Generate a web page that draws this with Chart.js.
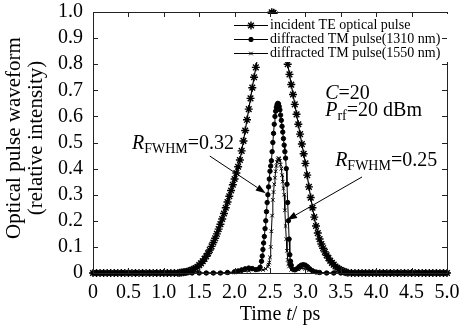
<!DOCTYPE html>
<html>
<head>
<meta charset="utf-8">
<script src="https://cdn.jsdelivr.net/npm/chart.js@4.4.1/dist/chart.umd.min.js"></script>
<style>
  html, body { margin: 0; padding: 0; background: #fff; }
</style>
</head>
<body>
<canvas id="chart" width="459" height="330"></canvas>
<script>
// series names and tick values
const seriesNames = ['incident TE optical pulse', 'diffracted TM pulse(1310 nm)', 'diffracted TM pulse(1550 nm)'];
const xTickValues = [0, 0.5, 1.0, 1.5, 2.0, 2.5, 3.0, 3.5, 4.0, 4.5, 5.0];
const yTickValues = [0, 0.1, 0.2, 0.3, 0.4, 0.5, 0.6, 0.7, 0.8, 0.9, 1.0];

// incident TE pulse (time in ps, relative intensity)
const teTime = [
  0, 0.05, 0.1, 0.15, 0.2, 0.25, 0.3, 0.35, 0.4, 0.45, 0.5, 0.55, 0.6, 0.65, 0.7, 0.75, 0.8, 0.85, 0.9, 0.95, 1.0, 1.05, 1.1, 1.15,
  1.2, 1.225, 1.25, 1.275, 1.3, 1.325, 1.35, 1.375, 1.4, 1.425, 1.45, 1.475, 1.5, 1.525, 1.55, 1.575, 1.6, 1.625, 1.65, 1.675,
  1.7, 1.725, 1.75, 1.775, 1.8, 1.825, 1.85, 1.875, 1.9, 1.925, 1.95, 1.975, 2.0, 2.025, 2.05, 2.075, 2.1, 2.125, 2.15, 2.175,
  2.2, 2.225, 2.25, 2.275, 2.3, 2.325, 2.35, 2.375, 2.4, 2.425, 2.45, 2.475, 2.5, 2.525, 2.55, 2.575, 2.6, 2.625, 2.65, 2.675,
  2.7, 2.725, 2.75, 2.775, 2.8, 2.825, 2.85, 2.875, 2.9, 2.925, 2.95, 2.975, 3.0, 3.025, 3.05, 3.075, 3.1, 3.125, 3.15, 3.175,
  3.2, 3.225, 3.25, 3.275, 3.3, 3.325, 3.35, 3.375, 3.4, 3.425, 3.45, 3.475, 3.5, 3.525, 3.55, 3.575, 3.6,
  3.65, 3.7, 3.75, 3.8, 3.85, 3.9, 3.95, 4.0, 4.05, 4.1, 4.15, 4.2, 4.25, 4.3, 4.35, 4.4, 4.45, 4.5, 4.55, 4.6, 4.65, 4.7, 4.75,
  4.8, 4.85, 4.9, 4.95, 5.0
];
const teValue = [
  0, 0, 0, 0, 0, 0, 0, 0, 0, 0, 0, 0, 0, 0, 0, 0, 0, 0, 0, 0, 0, 0, 0, 0,
  0, 0.001, 0.002, 0.003, 0.004, 0.005, 0.007, 0.009, 0.012, 0.015, 0.019, 0.024, 0.030, 0.037, 0.045, 0.054, 0.064, 0.075, 0.088, 0.102,
  0.117, 0.133, 0.150, 0.168, 0.187, 0.207, 0.228, 0.250, 0.272, 0.294, 0.316, 0.338, 0.360, 0.383, 0.407, 0.433, 0.468, 0.506, 0.546, 0.587,
  0.628, 0.669, 0.710, 0.750, 0.788, 0.824, 0.857, 0.888, 0.915, 0.939, 0.959, 0.976, 0.989, 0.999, 0.997, 0.990, 0.978, 0.961, 0.939, 0.911,
  0.877, 0.840, 0.800, 0.761, 0.722, 0.684, 0.646, 0.608, 0.570, 0.532, 0.494, 0.457, 0.420, 0.375, 0.330, 0.289, 0.250, 0.214, 0.180, 0.153,
  0.130, 0.111, 0.095, 0.081, 0.068, 0.057, 0.047, 0.039, 0.032, 0.025, 0.020, 0.015, 0.011, 0.008, 0.005, 0.003, 0.001,
  0, 0, 0, 0, 0, 0, 0, 0, 0, 0, 0, 0, 0, 0, 0, 0, 0, 0, 0, 0, 0, 0, 0,
  0, 0, 0, 0, 0
];

// diffracted TM pulse, 1310 nm
const tm1310Time = [
  0, 0.1, 0.2, 0.3, 0.4, 0.5, 0.6, 0.7, 0.8, 0.9, 1.0, 1.1, 1.2, 1.3, 1.4, 1.5, 1.6, 1.7, 1.8,
  1.9, 2.0, 2.05, 2.1, 2.15, 2.2, 2.25, 2.3, 2.34, 2.36,
  2.38, 2.39, 2.40, 2.41, 2.42, 2.43, 2.44, 2.45, 2.46, 2.47, 2.48, 2.49, 2.50, 2.51, 2.52, 2.53, 2.54, 2.55, 2.56, 2.57,
  2.58, 2.59, 2.60, 2.61, 2.62, 2.63, 2.64, 2.65, 2.66, 2.67, 2.68, 2.69, 2.70, 2.71, 2.72, 2.73, 2.74, 2.75, 2.76, 2.77,
  2.78, 2.79, 2.80,
  2.82, 2.85, 2.88, 2.91, 2.94, 2.97, 3.0, 3.03, 3.06, 3.1, 3.15, 3.2, 3.3,
  3.4, 3.5, 3.6, 3.7, 3.8, 3.9, 4.0, 4.1, 4.2, 4.3, 4.4, 4.5, 4.6, 4.7, 4.8, 4.9, 5.0
];
const tm1310Value = [
  0, 0, 0, 0, 0, 0, 0, 0, 0, 0, 0, 0, 0, 0, 0, 0, 0, 0, 0,
  0.002, 0.005, 0.008, 0.012, 0.016, 0.019, 0.017, 0.013, 0.015, 0.022,
  0.045, 0.065, 0.09, 0.115, 0.14, 0.17, 0.2, 0.235, 0.27, 0.3, 0.33, 0.36, 0.39, 0.41, 0.43, 0.465, 0.5, 0.535, 0.57, 0.6,
  0.62, 0.635, 0.645, 0.65, 0.648, 0.638, 0.625, 0.605, 0.585, 0.562, 0.54, 0.515, 0.49, 0.465, 0.44, 0.4, 0.34, 0.27, 0.2, 0.13,
  0.07, 0.045, 0.03,
  0.015, 0.012, 0.016, 0.024, 0.03, 0.032, 0.03, 0.024, 0.016, 0.009, 0.004, 0.002, 0,
  0, 0, 0, 0, 0, 0, 0, 0, 0, 0, 0, 0, 0, 0, 0, 0, 0
];

// diffracted TM pulse, 1550 nm
const tm1550Time = [
  0, 0.1, 0.2, 0.3, 0.4, 0.5, 0.6, 0.7, 0.8, 0.9, 1.0, 1.1, 1.2, 1.3, 1.4, 1.5, 1.6, 1.7, 1.8, 1.9,
  2.0, 2.1, 2.2, 2.3, 2.4, 2.44,
  2.47, 2.48, 2.49, 2.50, 2.51, 2.52, 2.53, 2.54, 2.55, 2.56, 2.57, 2.58, 2.59, 2.60, 2.61, 2.62,
  2.63, 2.64, 2.65, 2.66, 2.67, 2.68, 2.69, 2.70, 2.71, 2.72, 2.73, 2.74, 2.75, 2.76, 2.77,
  2.8, 2.85, 2.9, 2.95, 3.0, 3.05, 3.1, 3.2, 3.3,
  3.4, 3.5, 3.6, 3.7, 3.8, 3.9, 4.0, 4.1, 4.2, 4.3, 4.4, 4.5, 4.6, 4.7, 4.8, 4.9, 5.0
];
const tm1550Value = [
  0, 0, 0, 0, 0, 0, 0, 0, 0, 0, 0, 0, 0, 0, 0, 0, 0, 0, 0, 0,
  0.002, 0.004, 0.008, 0.01, 0.012, 0.016,
  0.025, 0.032, 0.04, 0.06, 0.1, 0.16, 0.22, 0.28, 0.31, 0.34, 0.365, 0.39, 0.41, 0.425, 0.435, 0.44,
  0.438, 0.43, 0.415, 0.4, 0.375, 0.35, 0.325, 0.3, 0.24, 0.18, 0.13, 0.085, 0.05, 0.035, 0.025,
  0.012, 0.01, 0.014, 0.018, 0.016, 0.01, 0.005, 0.001, 0,
  0, 0, 0, 0, 0, 0, 0, 0, 0, 0, 0, 0, 0, 0, 0, 0, 0
];

const serif = '"Liberation Serif", "DejaVu Serif", serif';

function toPoints(ts, vs) {
  return ts.map((t, i) => ({ x: t, y: vs[i] }));
}

// text with italic / subscript pieces
function drawRich(ctx, parts, x, y, size) {
  let cx = x;
  parts.forEach(p => {
    const s = p.sub ? Math.round(size * 0.68) : size;
    ctx.font = (p.it ? 'italic ' : '') + s + 'px ' + serif;
    ctx.fillText(p.t, cx, y + (p.sub ? size * 0.2 : 0));
    cx += ctx.measureText(p.t).width;
  });
  return cx - x;
}

function arrow(ctx, x0, y0, x1, y1) {
  const ang = Math.atan2(y1 - y0, x1 - x0);
  const len = 10, half = 3.5;
  const bx = x1 - len * Math.cos(ang), by = y1 - len * Math.sin(ang);
  ctx.beginPath();
  ctx.moveTo(x0, y0);
  ctx.lineTo(bx, by);
  ctx.stroke();
  ctx.beginPath();
  ctx.moveTo(x1, y1);
  ctx.lineTo(bx + half * Math.sin(ang), by - half * Math.cos(ang));
  ctx.lineTo(bx - half * Math.sin(ang), by + half * Math.cos(ang));
  ctx.closePath();
  ctx.fill();
}

const decor = {
  id: 'decor',
  afterDatasetsDraw(chart) {
    const { ctx, chartArea: a, scales } = chart;
    const sx = scales.x, sy = scales.y;
    ctx.save();
    ctx.strokeStyle = '#222';
    ctx.fillStyle = '#000';
    ctx.lineWidth = 1;

    // frame
    ctx.strokeRect(Math.round(a.left) + 0.5, Math.round(a.top) + 0.5, Math.round(a.right - a.left), Math.round(a.bottom - a.top));

    // legend box (white, covers the curves)
    const lgLeft = a.right - 215;
    ctx.fillStyle = '#fff';
    ctx.fillRect(lgLeft, a.top + 2, a.right + 2 - lgLeft, 48);
    ctx.fillStyle = '#000';
    ctx.font = '14px ' + serif;
    ctx.textBaseline = 'middle';
    ctx.textAlign = 'left';
    chart.data.datasets.forEach((ds, i) => {
      const ly = a.top + 13.5 + i * 14;
      const lx0 = lgLeft + 2, lx1 = lgLeft + 36;
      ctx.strokeStyle = '#000';
      ctx.lineWidth = 1;
      ctx.beginPath();
      ctx.moveTo(lx0, ly);
      ctx.lineTo(lx1, ly);
      ctx.stroke();
      ctx.lineWidth = ds.pointBorderWidth;
      Chart.helpers.drawPoint(ctx, { pointStyle: ds.pointStyle, radius: ds.pointRadius, borderWidth: ds.pointBorderWidth, rotation: 0 }, (lx0 + lx1) / 2, ly);
      ctx.lineWidth = 1;
      ctx.fillStyle = '#000';
      ctx.fillText(ds.label, lx1 + 2, ly);
    });

    // inward ticks on all sides
    ctx.strokeStyle = '#222';
    ctx.lineWidth = 1;
    ctx.beginPath();
    xTickValues.slice(1, -1).forEach(v => {
      const px = Math.round(sx.getPixelForValue(v)) + 0.5;
      ctx.moveTo(px, a.bottom); ctx.lineTo(px, a.bottom - 5);
      ctx.moveTo(px, a.top); ctx.lineTo(px, a.top + 5);
    });
    yTickValues.slice(1, -1).forEach(v => {
      const py = Math.round(sy.getPixelForValue(v)) + 0.5;
      ctx.moveTo(a.left, py); ctx.lineTo(a.left + 5, py);
      ctx.moveTo(a.right, py); ctx.lineTo(a.right - 5, py);
    });
    ctx.stroke();

    // annotations
    ctx.fillStyle = '#000';
    ctx.strokeStyle = '#000';
    ctx.textBaseline = 'alphabetic';
    drawRich(ctx, [{ t: 'C', it: true }, { t: '=20' }], sx.getPixelForValue(3.28), sy.getPixelForValue(0.665), 20);
    drawRich(ctx, [{ t: 'P', it: true }, { t: 'rf', sub: true }, { t: '=20 dBm' }], sx.getPixelForValue(3.28), sy.getPixelForValue(0.6), 20);
    drawRich(ctx, [{ t: 'R', it: true }, { t: 'FWHM', sub: true }, { t: '=0.32' }], sx.getPixelForValue(0.55), sy.getPixelForValue(0.475), 20);
    drawRich(ctx, [{ t: 'R', it: true }, { t: 'FWHM', sub: true }, { t: '=0.25' }], sx.getPixelForValue(3.42), sy.getPixelForValue(0.41), 20);
    arrow(ctx, sx.getPixelForValue(1.65), sy.getPixelForValue(0.448), sx.getPixelForValue(2.44), sy.getPixelForValue(0.306));
    arrow(ctx, sx.getPixelForValue(3.80), sy.getPixelForValue(0.368), sx.getPixelForValue(2.74), sy.getPixelForValue(0.203));

    // x axis title
    ctx.font = '20px ' + serif;
    const p1 = 'Time ', p3 = '/ ps';
    const w1 = ctx.measureText(p1).width, w3 = ctx.measureText(p3).width;
    ctx.font = 'italic 20px ' + serif;
    const w2 = ctx.measureText('t').width;
    const xStart = (a.left + a.right) / 2 + 10 - (w1 + w2 + w3) / 2;
    drawRich(ctx, [{ t: p1 }, { t: 't', it: true }, { t: p3 }], xStart, 320, 20);

    // y axis title
    ctx.save();
    ctx.translate(0, 138);
    ctx.rotate(-Math.PI / 2);
    ctx.textAlign = 'center';
    ctx.font = '21px ' + serif;
    ctx.fillText('Optical pulse waveform', 0, 20);
    ctx.fillText('(relative intensity)', 0, 42);
    ctx.restore();

    ctx.restore();
  }
};

new Chart(document.getElementById('chart'), {
  type: 'line',
  data: {
    datasets: [
      {
        label: seriesNames[0],
        data: toPoints(teTime, teValue),
        borderColor: '#000', backgroundColor: '#000',
        borderWidth: 1.2, pointStyle: 'star', pointRadius: 4, pointBorderWidth: 1.4,
        pointBorderColor: '#000', pointBackgroundColor: '#000', clip: false
      },
      {
        label: seriesNames[1],
        data: toPoints(tm1310Time, tm1310Value),
        borderColor: '#000', backgroundColor: '#000',
        borderWidth: 1, pointStyle: 'circle', pointRadius: 2.2, pointBorderWidth: 1,
        pointBorderColor: '#000', pointBackgroundColor: '#000', clip: false
      },
      {
        label: seriesNames[2],
        data: toPoints(tm1550Time, tm1550Value),
        borderColor: '#000', backgroundColor: '#000',
        borderWidth: 1, pointStyle: 'crossRot', pointRadius: 2.5, pointBorderWidth: 1,
        pointBorderColor: '#000', pointBackgroundColor: '#000', clip: false
      }
    ]
  },
  options: {
    responsive: false,
    animation: false,
    devicePixelRatio: 1,
    layout: { padding: { top: 12, right: 12, left: 0, bottom: 0 } },
    plugins: { legend: { display: false }, tooltip: { enabled: false } },
    elements: { line: { tension: 0 } },
    scales: {
      x: {
        type: 'linear', min: 0, max: 5,
        afterBuildTicks: s => { s.ticks = xTickValues.map(v => ({ value: v })); },
        afterFit: s => { s.height = 57; s.paddingLeft = 0; s.paddingRight = 0; },
        grid: { display: false, drawTicks: false },
        border: { display: false },
        ticks: {
          autoSkip: false, maxRotation: 0, padding: 8, color: '#000',
          font: { family: serif, size: 20 },
          callback: v => (v === 0 ? '0' : v.toFixed(1))
        }
      },
      y: {
        type: 'linear', min: 0, max: 1,
        afterBuildTicks: s => { s.ticks = yTickValues.map(v => ({ value: v })); },
        afterFit: s => { s.width = 93; s.paddingTop = 0; s.paddingBottom = 0; },
        grid: { display: false, drawTicks: false },
        border: { display: false },
        ticks: {
          autoSkip: false, padding: 10, color: '#000',
          font: { family: serif, size: 20 },
          callback: v => (v === 0 ? '0' : v.toFixed(1))
        }
      }
    }
  },
  plugins: [decor]
});
</script>
</body>
</html>
